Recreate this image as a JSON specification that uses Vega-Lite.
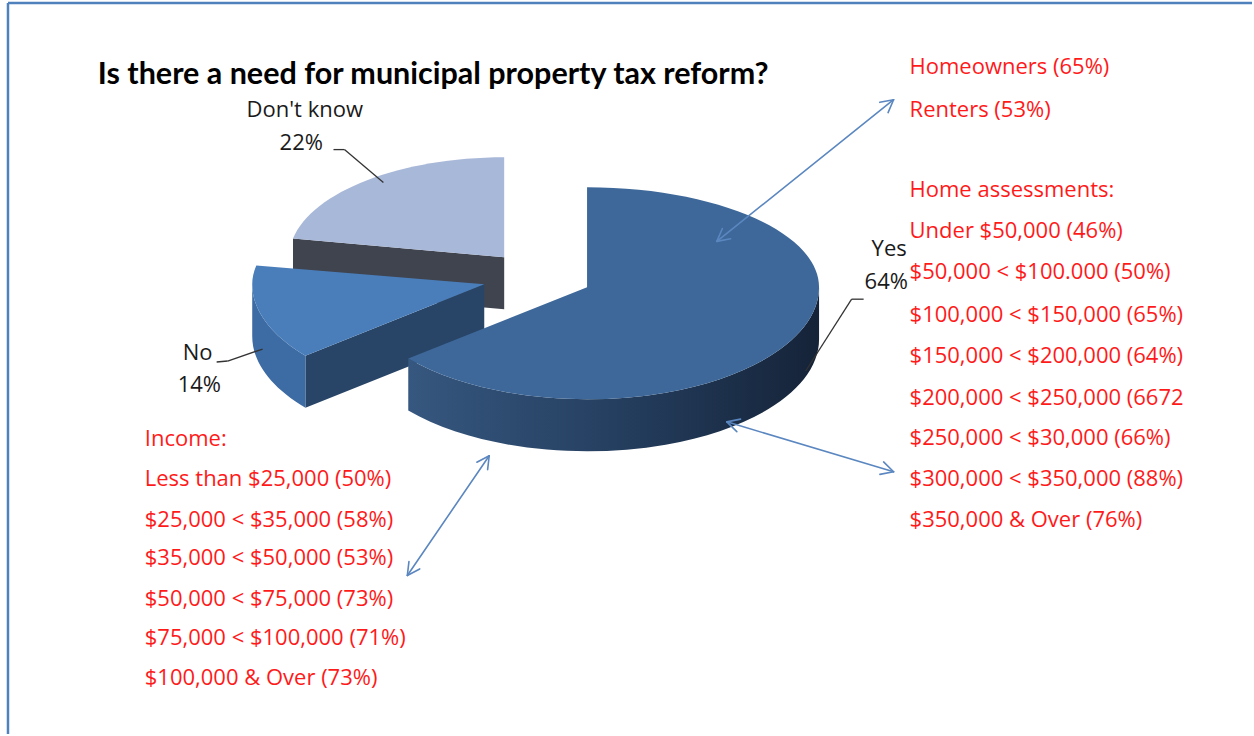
{
  "$schema": "https://vega.github.io/schema/vega-lite/v6.json",
  "width": 1254,
  "height": 736,
  "autosize": {"type": "fit", "contains": "padding"},
  "padding": 0,
  "background": "#ffffff",
  "config": {"view": {"stroke": null}, "axis": {"disable": true}},
  "datasets": {
    "slices": [
      {"slice": "Yes", "pct": 64, "x": 588, "y": 288},
      {"slice": "No", "pct": 14, "x": 485, "y": 285},
      {"slice": "Don't know", "pct": 22, "x": 505, "y": 258}
    ],
    "segments": [
      {"kind": "border", "x": 8, "y": 3, "x2": 8, "y2": 736},
      {"kind": "border", "x": 8, "y": 3, "x2": 1254, "y2": 3},
      {"kind": "leader", "x": 334, "y": 150, "x2": 345, "y2": 150},
      {"kind": "leader", "x": 345, "y": 150, "x2": 384, "y2": 183},
      {"kind": "leader", "x": 865, "y": 300, "x2": 853, "y2": 300},
      {"kind": "leader", "x": 853, "y": 300, "x2": 807, "y2": 372},
      {"kind": "leader", "x": 217, "y": 363, "x2": 228, "y2": 362},
      {"kind": "leader", "x": 228, "y": 362, "x2": 263, "y2": 350},
      {"kind": "arrow", "x": 718, "y": 242, "x2": 895, "y2": 100},
      {"kind": "arrow", "x": 881.2, "y": 102.6, "x2": 895, "y2": 100},
      {"kind": "arrow", "x": 889.5, "y": 112.9, "x2": 895, "y2": 100},
      {"kind": "arrow", "x": 731.8, "y": 239.4, "x2": 718, "y2": 242},
      {"kind": "arrow", "x": 723.5, "y": 229.1, "x2": 718, "y2": 242},
      {"kind": "arrow", "x": 728, "y": 423, "x2": 895, "y2": 473},
      {"kind": "arrow", "x": 885.0, "y": 463.2, "x2": 895, "y2": 473},
      {"kind": "arrow", "x": 881.3, "y": 475.7, "x2": 895, "y2": 473},
      {"kind": "arrow", "x": 738.0, "y": 432.8, "x2": 728, "y2": 423},
      {"kind": "arrow", "x": 741.7, "y": 420.3, "x2": 728, "y2": 423},
      {"kind": "arrow", "x": 490, "y": 457, "x2": 408, "y2": 577},
      {"kind": "arrow", "x": 420.4, "y": 570.5, "x2": 408, "y2": 577},
      {"kind": "arrow", "x": 409.6, "y": 563.1, "x2": 408, "y2": 577},
      {"kind": "arrow", "x": 477.6, "y": 463.5, "x2": 490, "y2": 457},
      {"kind": "arrow", "x": 488.4, "y": 470.9, "x2": 490, "y2": 457}
    ],
    "labels": [
      {"text": "Don't know", "x": 247, "y": 110},
      {"text": "22%", "x": 280, "y": 143},
      {"text": "Yes", "x": 873, "y": 250},
      {"text": "64%", "x": 866, "y": 283},
      {"text": "No", "x": 183, "y": 354},
      {"text": "14%", "x": 178, "y": 386}
    ],
    "notes": [
      {"text": "Homeowners (65%)", "x": 911, "y": 67},
      {"text": "Renters (53%)", "x": 911, "y": 110},
      {"text": "Home assessments:", "x": 911, "y": 191},
      {"text": "Under $50,000 (46%)", "x": 911, "y": 232},
      {"text": "$50,000 < $100.000 (50%)", "x": 911, "y": 273},
      {"text": "$100,000 < $150,000 (65%)", "x": 911, "y": 316},
      {"text": "$150,000 < $200,000 (64%)", "x": 911, "y": 357},
      {"text": "$200,000 < $250,000 (6672", "x": 911, "y": 399},
      {"text": "$250,000 < $30,000 (66%)", "x": 911, "y": 439},
      {"text": "$300,000 < $350,000 (88%)", "x": 911, "y": 480},
      {"text": "$350,000 & Over (76%)", "x": 911, "y": 521},
      {"text": "Income:", "x": 145, "y": 440},
      {"text": "Less than $25,000 (50%)", "x": 145, "y": 480},
      {"text": "$25,000 < $35,000 (58%)", "x": 145, "y": 521},
      {"text": "$35,000 < $50,000 (53%)", "x": 145, "y": 560},
      {"text": "$50,000 < $75,000 (73%)", "x": 145, "y": 601},
      {"text": "$75,000 < $100,000 (71%)", "x": 145, "y": 640},
      {"text": "$100,000 & Over (73%)", "x": 145, "y": 680}
    ],
    "title": [
      {"text": "Is there a need for municipal property tax reform?", "x": 98, "y": 75}
    ]
  },
  "encoding": {
    "x": {"field": "x", "type": "quantitative", "scale": {"domain": [0, 1254], "nice": false, "zero": false}},
    "y": {"field": "y", "type": "quantitative", "scale": {"domain": [0, 736], "reverse": true, "nice": false, "zero": false}}
  },
  "layer": [
    {
      "data": {"name": "segments"},
      "transform": [{"filter": "datum.kind == 'border'"}],
      "mark": {"type": "rule", "color": "#4F81BD", "strokeWidth": 2.5},
      "encoding": {"x2": {"field": "x2"}, "y2": {"field": "y2"}}
    },
    {
      "data": {"name": "slices"},
      "transform": [{"filter": "datum.slice == \"Don't know\""}],
      "mark": {"type": "point", "filled": true, "opacity": 1, "size": 4, "fill": "#40444F", "strokeWidth": 0,
        "shape": "M0,0 L-211.2,-18.7 L-211.2,33.3 L0,52 Z"}
    },
    {
      "data": {"name": "slices"},
      "transform": [{"filter": "datum.slice == \"Don't know\""}],
      "mark": {"type": "point", "filled": true, "opacity": 1, "size": 4, "fill": "#A8B8D8", "strokeWidth": 0,
        "shape": "M0,0 L-211.2,-18.7 A215,100 0 0,1 0,-100 Z"}
    },
    {
      "data": {"name": "slices"},
      "transform": [{"filter": "datum.slice == 'No'"}],
      "mark": {"type": "point", "filled": true, "opacity": 1, "size": 4, "fill": "#284567", "strokeWidth": 0,
        "shape": "M0,0 L-178.8,71.4 L-178.8,123.4 L0,52 Z"}
    },
    {
      "data": {"name": "slices"},
      "transform": [{"filter": "datum.slice == 'No'"}],
      "mark": {"type": "point", "filled": true, "opacity": 1, "size": 4, "fill": "#3D6BA3", "strokeWidth": 0,
        "shape": "M-178.8,71.4 A232,112 0 0,1 -232,0 L-232,52 A232,112 0 0,0 -178.8,123.4 Z"}
    },
    {
      "data": {"name": "slices"},
      "transform": [{"filter": "datum.slice == 'No'"}],
      "mark": {"type": "point", "filled": true, "opacity": 1, "size": 4, "fill": "#4A7EBB", "strokeWidth": 0,
        "shape": "M0,0 L-178.8,71.4 A232,112 0 0,1 -232,0 A232,100 0 0,1 -227.9,-18.7 Z"}
    },
    {
      "data": {"name": "slices"},
      "transform": [{"filter": "datum.slice == 'Yes'"}],
      "mark": {"type": "point", "filled": true, "opacity": 1, "size": 4, "strokeWidth": 0,
        "fill": {"gradient": "linear", "x1": 0, "y1": 0, "x2": 1, "y2": 0,
          "stops": [{"offset": 0, "color": "#36577F"}, {"offset": 0.5, "color": "#253F60"}, {"offset": 1, "color": "#152338"}]},
        "shape": "M232,0 A232,112 0 0,1 -178.8,71.4 L-178.8,123.4 A232,112 0 0,0 232,52 Z"}
    },
    {
      "data": {"name": "slices"},
      "transform": [{"filter": "datum.slice == 'Yes'"}],
      "mark": {"type": "point", "filled": true, "opacity": 1, "size": 4, "fill": "#3E6899", "strokeWidth": 0,
        "shape": "M0,0 L0,-100 A232,100 0 0,1 232,0 A232,112 0 0,1 -178.8,71.4 Z"}
    },
    {
      "data": {"name": "segments"},
      "transform": [{"filter": "datum.kind == 'leader'"}],
      "mark": {"type": "rule", "color": "#333333", "strokeWidth": 1.3},
      "encoding": {"x2": {"field": "x2"}, "y2": {"field": "y2"}}
    },
    {
      "data": {"name": "segments"},
      "transform": [{"filter": "datum.kind == 'arrow'"}],
      "mark": {"type": "rule", "color": "#5B87C0", "strokeWidth": 1.6, "strokeCap": "round"},
      "encoding": {"x2": {"field": "x2"}, "y2": {"field": "y2"}}
    },
    {
      "data": {"name": "labels"},
      "mark": {"type": "text", "align": "left", "baseline": "middle", "font": "Open Sans", "fontSize": 22, "color": "#1A1A1A"},
      "encoding": {"text": {"field": "text"}}
    },
    {
      "data": {"name": "notes"},
      "mark": {"type": "text", "align": "left", "baseline": "middle", "font": "Open Sans", "fontSize": 22, "color": "#FF1A1A"},
      "encoding": {"text": {"field": "text"}}
    },
    {
      "data": {"name": "title"},
      "mark": {"type": "text", "align": "left", "baseline": "middle", "font": "Lato", "fontSize": 30.5, "fontWeight": "bold", "color": "#000000"},
      "encoding": {"text": {"field": "text"}}
    }
  ]
}
